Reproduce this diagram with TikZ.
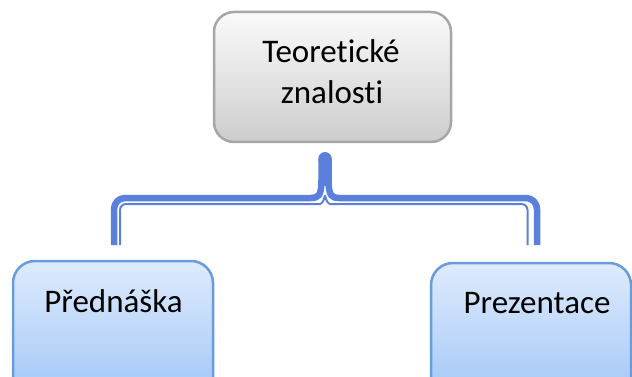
\documentclass[tikz,border=0pt]{standalone}
\usepackage{fontspec}
\setmainfont{Carlito}[Ligatures={NoCommon,NoContextual}]
\definecolor{boxgray}{RGB}{166,166,166}
\definecolor{graytop}{RGB}{250,250,250}
\definecolor{graybot}{RGB}{205,205,205}
\definecolor{leafedge}{RGB}{104,156,218}
\definecolor{leaftop}{RGB}{222,235,253}
\definecolor{leafbot}{RGB}{160,198,246}
\definecolor{conblue}{RGB}{91,128,220}
\begin{document}
\begin{tikzpicture}[x=1pt,y=-1pt,
  topbox/.style={draw=boxgray, line width=2.5pt, rounded corners=20pt,
    top color=graytop, bottom color=graybot, inner sep=0pt},
  leafbox/.style={draw=leafedge, line width=2.5pt, rounded corners=22pt,
    top color=leaftop, bottom color=leafbot, inner sep=0pt},
  txt/.style={font=\fontsize{33}{40}\selectfont, anchor=base, inner sep=0pt, text=black},
  thickline/.style={draw=conblue, line width=6.5pt, line cap=butt, line join=round},
  thinline/.style={draw=conblue, line width=2pt, line cap=butt, line join=round}]
\useasboundingbox (0,0) rectangle (632,377);

% boxes
\node[topbox, minimum width=237pt, minimum height=130pt] (theory) at (332.5,77) {};
\node[leafbox, minimum width=200pt, minimum height=140pt] (lecture) at (113,331) {};
\node[leafbox, minimum width=200pt, minimum height=140pt] (slides) at (531,333) {};

% labels
\node[txt] (t1) at (331,63) {Teoretické};
\node[txt] (t2) at (332,104) {znalosti};
\node[txt] (t3) at (113.5,312) {Přednáška};
\node[txt] (t4) at (537,313) {Prezentace};

% bracket end points
\coordinate (lthick) at (114,245);
\coordinate (lthin) at (120,245);
\coordinate (rthick) at (537,245);
\coordinate (rthin) at (527.5,245);
\coordinate (stemtop) at (325,158.75);
\coordinate (vtip) at (325,195);

% bracket connector: thick outer strokes
\draw[thickline] (lthick) [rounded corners=11pt] -- (114,198) -- (300,198) [sharp corners]
  .. controls (318,198) and (321.5,196) .. (321.5,180) -- (321.5,159);
\draw[thickline] (rthick) [rounded corners=11pt] -- (537,198) -- (350,198) [sharp corners]
  .. controls (332,198) and (328.5,196) .. (328.5,180) -- (328.5,159);
\fill[conblue] (stemtop) circle (6.75pt);
\fill[conblue] (321.5,158.5) rectangle (328.5,186);

% bracket connector: thin inner strokes
\draw[thinline] (lthin) [rounded corners=6pt] -- (120,204) -- (314,204) [sharp corners]
  .. controls (321,204) and (324.5,201) .. (vtip);
\draw[thinline] (rthin) [rounded corners=6pt] -- (527.5,204) -- (336,204) [sharp corners]
  .. controls (329,204) and (325.5,201) .. (vtip);
\end{tikzpicture}
\end{document}
